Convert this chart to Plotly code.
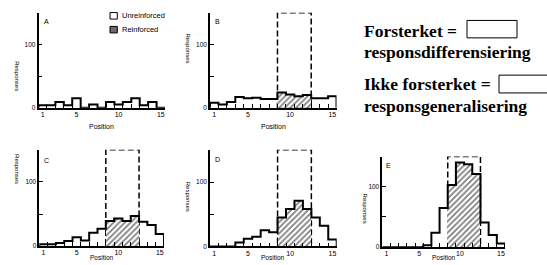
import plotly.graph_objects as go

# ---------------- data ----------------
positions = list(range(1, 16))
resp_A = [4, 4, 9, 4, 15, 0, 5, 0, 9, 5, 9, 15, 4, 9, 0]
resp_B = [8, 5, 9, 17, 15, 16, 14, 14, 24, 21, 18, 20, 15, 15, 18]
resp_C = [3, 3, 5, 8, 14, 9, 21, 27, 39, 43, 39, 47, 38, 33, 19]
resp_D = [0, 0, 0, 6, 12, 15, 25, 22, 45, 58, 71, 58, 45, 32, 11]
resp_E = [0, 0, 0, 0, 0, 3, 24, 65, 103, 140, 137, 121, 41, 20, 6]
reinforced_A = []
reinforced_BCDE = [9, 10, 11, 12]
panel_labels = ["A", "B", "C", "D", "E"]
x_tick_vals = [1, 5, 10, 15]
y_tick_vals = [0, 100]
y_minor_vals = [50, 150]
y_max = 150

panels = [
    ("A", resp_A, reinforced_A),
    ("B", resp_B, reinforced_BCDE),
    ("C", resp_C, reinforced_BCDE),
    ("D", resp_D, reinforced_BCDE),
    ("E", resp_E, reinforced_BCDE),
]

# ---------------- layout geometry (pixels) ----------------
W, H = 547, 265
boxes = {  # left, right, top, bottom
    "A": (38.5, 165, 13, 109),
    "B": (210, 336.5, 13, 109),
    "C": (39.3, 164, 151.5, 249),
    "D": (210, 336.7, 151.5, 249.3),
    "E": (382.3, 505, 158.3, 250),
}
pos_title = {"A": (128, 7), "B": (128, 7), "C": (260.5, 6.5), "D": (260.5, 6.5), "E": (260.5, 6.5)}
resp_title = {"A": (17, 77), "B": (188, 49), "C": (17, 171), "D": (188, 199), "E": (365, 211)}
letter_pos = {"A": (46.7, 21.7), "B": (217.7, 22), "C": (46.7, 162), "D": (217.7, 161), "E": (388, 167)}


def px_x(p):
    return p / W


def px_y(p):
    return 1 - p / H


FONT = "Liberation Sans, Arial, sans-serif"
SERIF = "Liberation Serif, Times New Roman, serif"

fig = go.Figure()
shapes = []
annotations = []

for i, (name, vals, reinf) in enumerate(panels, start=1):
    xa = "x" if i == 1 else f"x{i}"
    ya = "y" if i == 1 else f"y{i}"
    left, right, top, bottom = boxes[name]

    # hatched reinforced bars
    if reinf:
        rv = [vals[positions.index(p)] for p in reinf]
        fig.add_trace(go.Bar(
            x=reinf, y=rv, width=1, xaxis=xa, yaxis=ya, showlegend=False,
            marker=dict(color="white", line=dict(width=0),
                        pattern=dict(shape="/", fgcolor="black", bgcolor="white",
                                     size=4, solidity=0.45)),
            hoverinfo="skip",
        ))

    # histogram step outline built from the data
    sx = [positions[0] - 0.5, positions[0] - 0.5]
    sy = [0, vals[0]]
    for p, v in zip(positions[1:], vals[1:]):
        sx.append(p - 0.5)
        sy.append(v)
    sx.append(positions[-1] + 0.5)
    sy.append(0)
    fig.add_trace(go.Scatter(
        x=sx, y=sy, mode="lines", line=dict(color="black", width=2, shape="hv"),
        xaxis=xa, yaxis=ya, showlegend=False, hoverinfo="skip",
    ))

    # dashed reinforced region
    if reinf:
        shapes.append(dict(
            type="rect", xref=xa, yref=ya, x0=min(reinf) - 0.5, x1=max(reinf) + 0.5,
            y0=0, y1=y_max, line=dict(color="black", width=1.5, dash="6px,3px"),
            layer="below",
        ))

    xkey = "xaxis" if i == 1 else f"xaxis{i}"
    ykey = "yaxis" if i == 1 else f"yaxis{i}"
    fig.layout[xkey] = dict(
        domain=[px_x(left), px_x(right)], anchor=ya, range=[0.5, 15.5],
        showline=True, linecolor="black", linewidth=1.5, showgrid=False, zeroline=False,
        tickmode="array", tickvals=x_tick_vals, ticks="", ticklabelstandoff=-1,
        tickfont=dict(family=FONT, size=7, color="black"),
        minor=dict(tickmode="array", tickvals=[p + 0.5 for p in positions[:-1]],
                   ticks="inside", ticklen=4, tickwidth=1, tickcolor="black", showgrid=False),
        fixedrange=True,
    )
    fig.layout[ykey] = dict(
        domain=[px_y(bottom), px_y(top)], anchor=xa, range=[0, y_max],
        showline=True, linecolor="black", linewidth=1.5, showgrid=False, zeroline=False,
        tickmode="array", tickvals=y_tick_vals, ticks="inside", ticklen=4, tickwidth=1,
        tickcolor="black", tickfont=dict(family=FONT, size=6.5, color="black"),
        minor=dict(tickmode="array", tickvals=y_minor_vals, ticks="inside", ticklen=4,
                   tickwidth=1, tickcolor="black", showgrid=False),
        fixedrange=True,
    )

    ty, tsize = pos_title[name]
    annotations.append(dict(
        text="Position", xref="paper", yref="paper",
        x=px_x((left + right) / 2), y=px_y(ty), borderpad=0,
        showarrow=False, font=dict(family=FONT, size=tsize, color="black"),
        xanchor="center", yanchor="middle",
    ))
    rx, ry = resp_title[name]
    annotations.append(dict(
        text="Responses", xref="paper", yref="paper", x=px_x(rx), y=px_y(ry),
        showarrow=False, textangle=90, font=dict(family=FONT, size=6, color="black"),
        xanchor="center", yanchor="middle",
    ))
    lx, ly = letter_pos[name]
    annotations.append(dict(
        text=name, xref="paper", yref="paper", x=px_x(lx), y=px_y(ly),
        showarrow=False, font=dict(family=FONT, size=7, color="black"),
        xanchor="center", yanchor="middle",
    ))

# ---------------- legend in panel A (manual) ----------------
shapes.append(dict(type="rect", xref="paper", yref="paper",
                   x0=px_x(110), x1=px_x(117.3), y0=px_y(19.3), y1=px_y(12.7),
                   line=dict(color="black", width=1), fillcolor="white"))
shapes.append(dict(type="rect", xref="paper", yref="paper",
                   x0=px_x(110), x1=px_x(117.3), y0=px_y(33.3), y1=px_y(26.7),
                   line=dict(color="black", width=1), fillcolor="#6a6a6a"))
annotations.append(dict(text="Unreinforced", xref="paper", yref="paper",
                        x=px_x(120), y=px_y(16), xanchor="left", yanchor="middle",
                        showarrow=False, font=dict(family=FONT, size=7.5, color="black")))
annotations.append(dict(text="Reinforced", xref="paper", yref="paper",
                        x=px_x(120), y=px_y(30), xanchor="left", yanchor="middle",
                        showarrow=False, font=dict(family=FONT, size=7.5, color="black")))

# ---------------- right-hand explanatory text ----------------
right_text = [
    ("<b>Forsterket =</b>", 31),
    ("<b>responsdifferensiering</b>", 53),
    ("<b>Ikke forsterket =</b>", 85),
    ("<b>responsgeneralisering</b>", 107),
]
for t, yc in right_text:
    annotations.append(dict(text=t, xref="paper", yref="paper", x=px_x(362), y=px_y(yc),
                            xanchor="left", yanchor="middle", showarrow=False,
                            font=dict(family=SERIF, size=17.5, color="black")))
shapes.append(dict(type="rect", xref="paper", yref="paper",
                   x0=px_x(467), x1=px_x(517), y0=px_y(38.3), y1=px_y(20.7),
                   line=dict(color="black", width=1), fillcolor="white"))
shapes.append(dict(type="rect", xref="paper", yref="paper",
                   x0=px_x(499), x1=px_x(549), y0=px_y(94), y1=px_y(76),
                   line=dict(color="black", width=1), fillcolor="white"))

fig.update_layout(
    width=W, height=H, margin=dict(l=0, r=0, t=0, b=0),
    paper_bgcolor="white", plot_bgcolor="white", showlegend=False,
    shapes=shapes, annotations=annotations, bargap=0,
)

fig.write_html(
    "out.html",
    config={"displayModeBar": False},
    post_script="document.body.style.margin='0';document.body.style.overflow='hidden';",
)
